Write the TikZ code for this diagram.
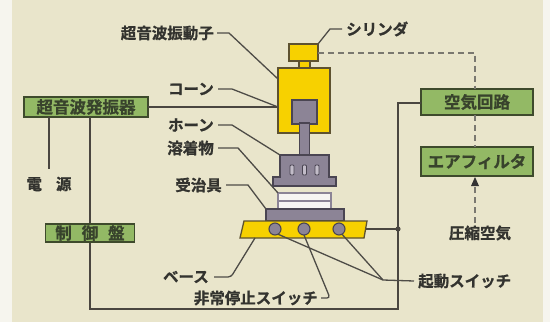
\documentclass[tikz,border=0pt]{standalone}
\usepackage{fontspec}
\setmainfont{Noto Sans CJK JP}[BoldFont={Noto Sans CJK JP Bold}, BoldFeatures={FakeBold=0.9}]
\usetikzlibrary{arrows.meta}

\definecolor{paper}{HTML}{E9E5CB}
\definecolor{margin}{HTML}{F6F5EE}
\definecolor{boxgreen}{HTML}{93B965}
\definecolor{boxedge}{HTML}{3E4A2C}
\definecolor{boxtext}{HTML}{38432C}
\definecolor{ink}{HTML}{33332F}
\definecolor{wirecol}{HTML}{4A4640}
\definecolor{leadcol}{HTML}{4E4C47}
\definecolor{yel}{HTML}{F7D100}
\definecolor{yeledge}{HTML}{5E5230}
\definecolor{metal}{HTML}{8C8496}
\definecolor{metaledge}{HTML}{4A4552}
\definecolor{slotcol}{HTML}{C2BCC8}
\definecolor{workcol}{HTML}{F7F5F3}
\definecolor{dashcol}{HTML}{7A7870}

\tikzset{
  unitbox/.style={draw=boxedge, line width=1.6pt, fill=boxgreen, text=boxtext,
    font=\bfseries\fontsize{16.5}{16.5}\selectfont, inner sep=0pt, outer sep=0pt},
  tag/.style={text=ink, font=\bfseries\fontsize{15.5}{15.5}\selectfont, inner sep=0pt},
  yelpart/.style={draw=yeledge, line width=1.3pt, fill=yel, inner sep=0pt, outer sep=0pt},
  metalpart/.style={draw=metaledge, line width=1.2pt, fill=metal, inner sep=0pt, outer sep=0pt},
  workpart/.style={draw=metal, line width=1.2pt, fill=workcol, inner sep=0pt, outer sep=0pt},
  slotpart/.style={draw=metaledge, line width=0.8pt, fill=slotcol, rounded corners=1pt,
    minimum width=4pt, minimum height=10pt, inner sep=0pt},
  switchpart/.style={circle, draw=metaledge, line width=1.1pt, fill=metal,
    minimum size=12pt, inner sep=0pt, outer sep=0pt},
  wire/.style={draw=wirecol, line width=1.8pt},
  lead/.style={draw=leadcol, line width=1.3pt},
  airline/.style={draw=dashcol, line width=2pt, dash pattern=on 6pt off 4pt},
}

\begin{document}
\begin{tikzpicture}[x=1pt, y=-1pt]
\useasboundingbox (0,0) rectangle (550,322);
\fill[margin] (0,0) rectangle (550,322);
\fill[paper] (12,0) rectangle (543,322);

% control units
\node[unitbox, minimum width=124pt, minimum height=20pt] (gen) at (86,107) {超音波発振器};
\node[unitbox, minimum width=112pt, minimum height=26pt] (air) at (477,102) {空気回路};
\node[unitbox, minimum width=112pt, minimum height=29pt] (filt) at (477,161.5) {エアフィルタ};
\node[tag] (pwr) at (49,184) {電\hspace{0.9em}源};
\node[tag] (comp) at (480,233) {圧縮空気};

% power and signal wiring
\coordinate (loopBL) at (90,309);
\coordinate (loopBR) at (398,309);
\coordinate (loopTR) at (398,103);
\draw[wire] (gen.south -| loopBL) -- (loopBL) -- (loopBR) -- (loopTR) -- (air.west |- loopTR);
\draw[wire] (gen.south -| pwr.north) -- ([yshift=8pt]pwr.north);
\node[unitbox, minimum width=89pt, minimum height=18pt] (ctrl) at (90,233)
  {制\hspace{0.6em}御\hspace{0.6em}盤};

% compressed air line
\node[yelpart, minimum width=11pt, minimum height=8pt] (neck) at (304.5,64.5) {};
\node[yelpart, minimum width=29pt, minimum height=17pt] (cyl) at (303.5,52.5) {};
\coordinate (airx) at (475,52.5);
\draw[airline] (cyl.east) -- (airx) -- (airx |- air.north);
\draw[airline] (airx |- air.south) -- (airx |- filt.north);
\draw[airline] ([yshift=2pt]comp.north -| airx) -- ([yshift=-8pt]filt.south -| airx);
\fill[black!80] ([yshift=-1pt]filt.south -| airx) -- ++(-4,9) -- ++(8,0) -- cycle;

% welding head
\draw[wire] (gen.east) -- (278,107);
\node[yelpart, minimum width=52pt, minimum height=65pt] (body) at (304,100.5) {};
\node[metalpart, minimum width=25pt, minimum height=24pt] (cone) at (304.5,112) {};
\node[metalpart, minimum width=10pt, minimum height=33pt] (stem) at (304.5,139.5) {};
\coordinate (hornTL) at (280,155);
\path[metalpart] (hornTL) -- (329,155) -- (329,177) -- (336,177) -- (336,186)
  -- (273,186) -- (273,177) -- (280,177) -- cycle;
\node[slotpart] (slot1) at (292,170) {};
\node[slotpart] (slot2) at (304.5,170) {};
\node[slotpart] (slot3) at (317,170) {};

% workpiece, jig and base
\node[workpart, minimum width=53pt, minimum height=8pt] (work1) at (304.5,197) {};
\node[workpart, minimum width=53pt, minimum height=8pt] (work2) at (304.5,205) {};
\node[metalpart, minimum width=78pt, minimum height=12pt] (plate) at (305,215) {};
\coordinate (baseTL) at (244,221);
\coordinate (baseTR) at (367,221);
\coordinate (baseBR) at (364,238);
\coordinate (baseBL) at (240,238);
\path[yelpart] (baseTL) -- (baseTR) -- (baseBR) -- (baseBL) -- cycle;
\coordinate (baseR) at (366,229);
\draw[wire] (baseR) -- (loopBR |- baseR);
\fill[wirecol] (loopBR |- baseR) circle (2.6);

% labels and leaders
\node[tag, anchor=east] (lvib) at (214,33) {超音波振動子};
\node[tag, anchor=west] (lcyl) at (346,29) {シリンダ};
\node[tag, anchor=east] (lcone) at (214,89) {コーン};
\node[tag, anchor=east] (lhorn) at (214,125) {ホーン};
\node[tag, anchor=east] (lweld) at (214,148) {溶着物};
\node[tag, anchor=east] (ljig) at (222,185) {受治具};
\node[tag, anchor=east] (lbase) at (209,277) {ベース};
\node[tag, anchor=east] (lstop) at (318,298) {非常停止スイッチ};
\node[tag, anchor=west] (lstart) at (418,281) {起動スイッチ};

\draw[lead] ([xshift=3pt]lvib.east) -- ++(12,0) -- (body.west |- 0,79);
\draw[lead] ([xshift=-4pt]lcyl.west) -- ++(-12,0) -- (cyl.north east);
\draw[lead] ([xshift=4pt]lcone.east) -- ++(14,0) -- (body.west |- gen.east);
\draw[lead] ([xshift=4pt]lhorn.east) -- ++(14,0) -- (hornTL);
\draw[lead] ([xshift=4pt]lweld.east) -- ++(20,0) -- (work1.north west);
\draw[lead] ([xshift=4pt]ljig.east) -- ++(22,0) -- (plate.north west);

\node[switchpart] (sw1) at (275,229) {};
\node[switchpart] (sw2) at (304,229) {};
\node[switchpart] (sw3) at (339,229) {};

\coordinate (basept) at (255,238);
\draw[lead, rounded corners=3pt] ([xshift=5pt]lbase.east) -- ++(17,0) -- (basept);
\draw[lead, rounded corners=3pt] ([xshift=3pt]lstop.east) -- ++(9,0) -- (sw2.south);
\coordinate (startJ) at (383,280);
\draw[lead] ([xshift=-4pt]lstart.west) -- (startJ) -- (sw1.-60);
\draw[lead] (startJ) -- (sw3.-60);
\end{tikzpicture}
\end{document}
